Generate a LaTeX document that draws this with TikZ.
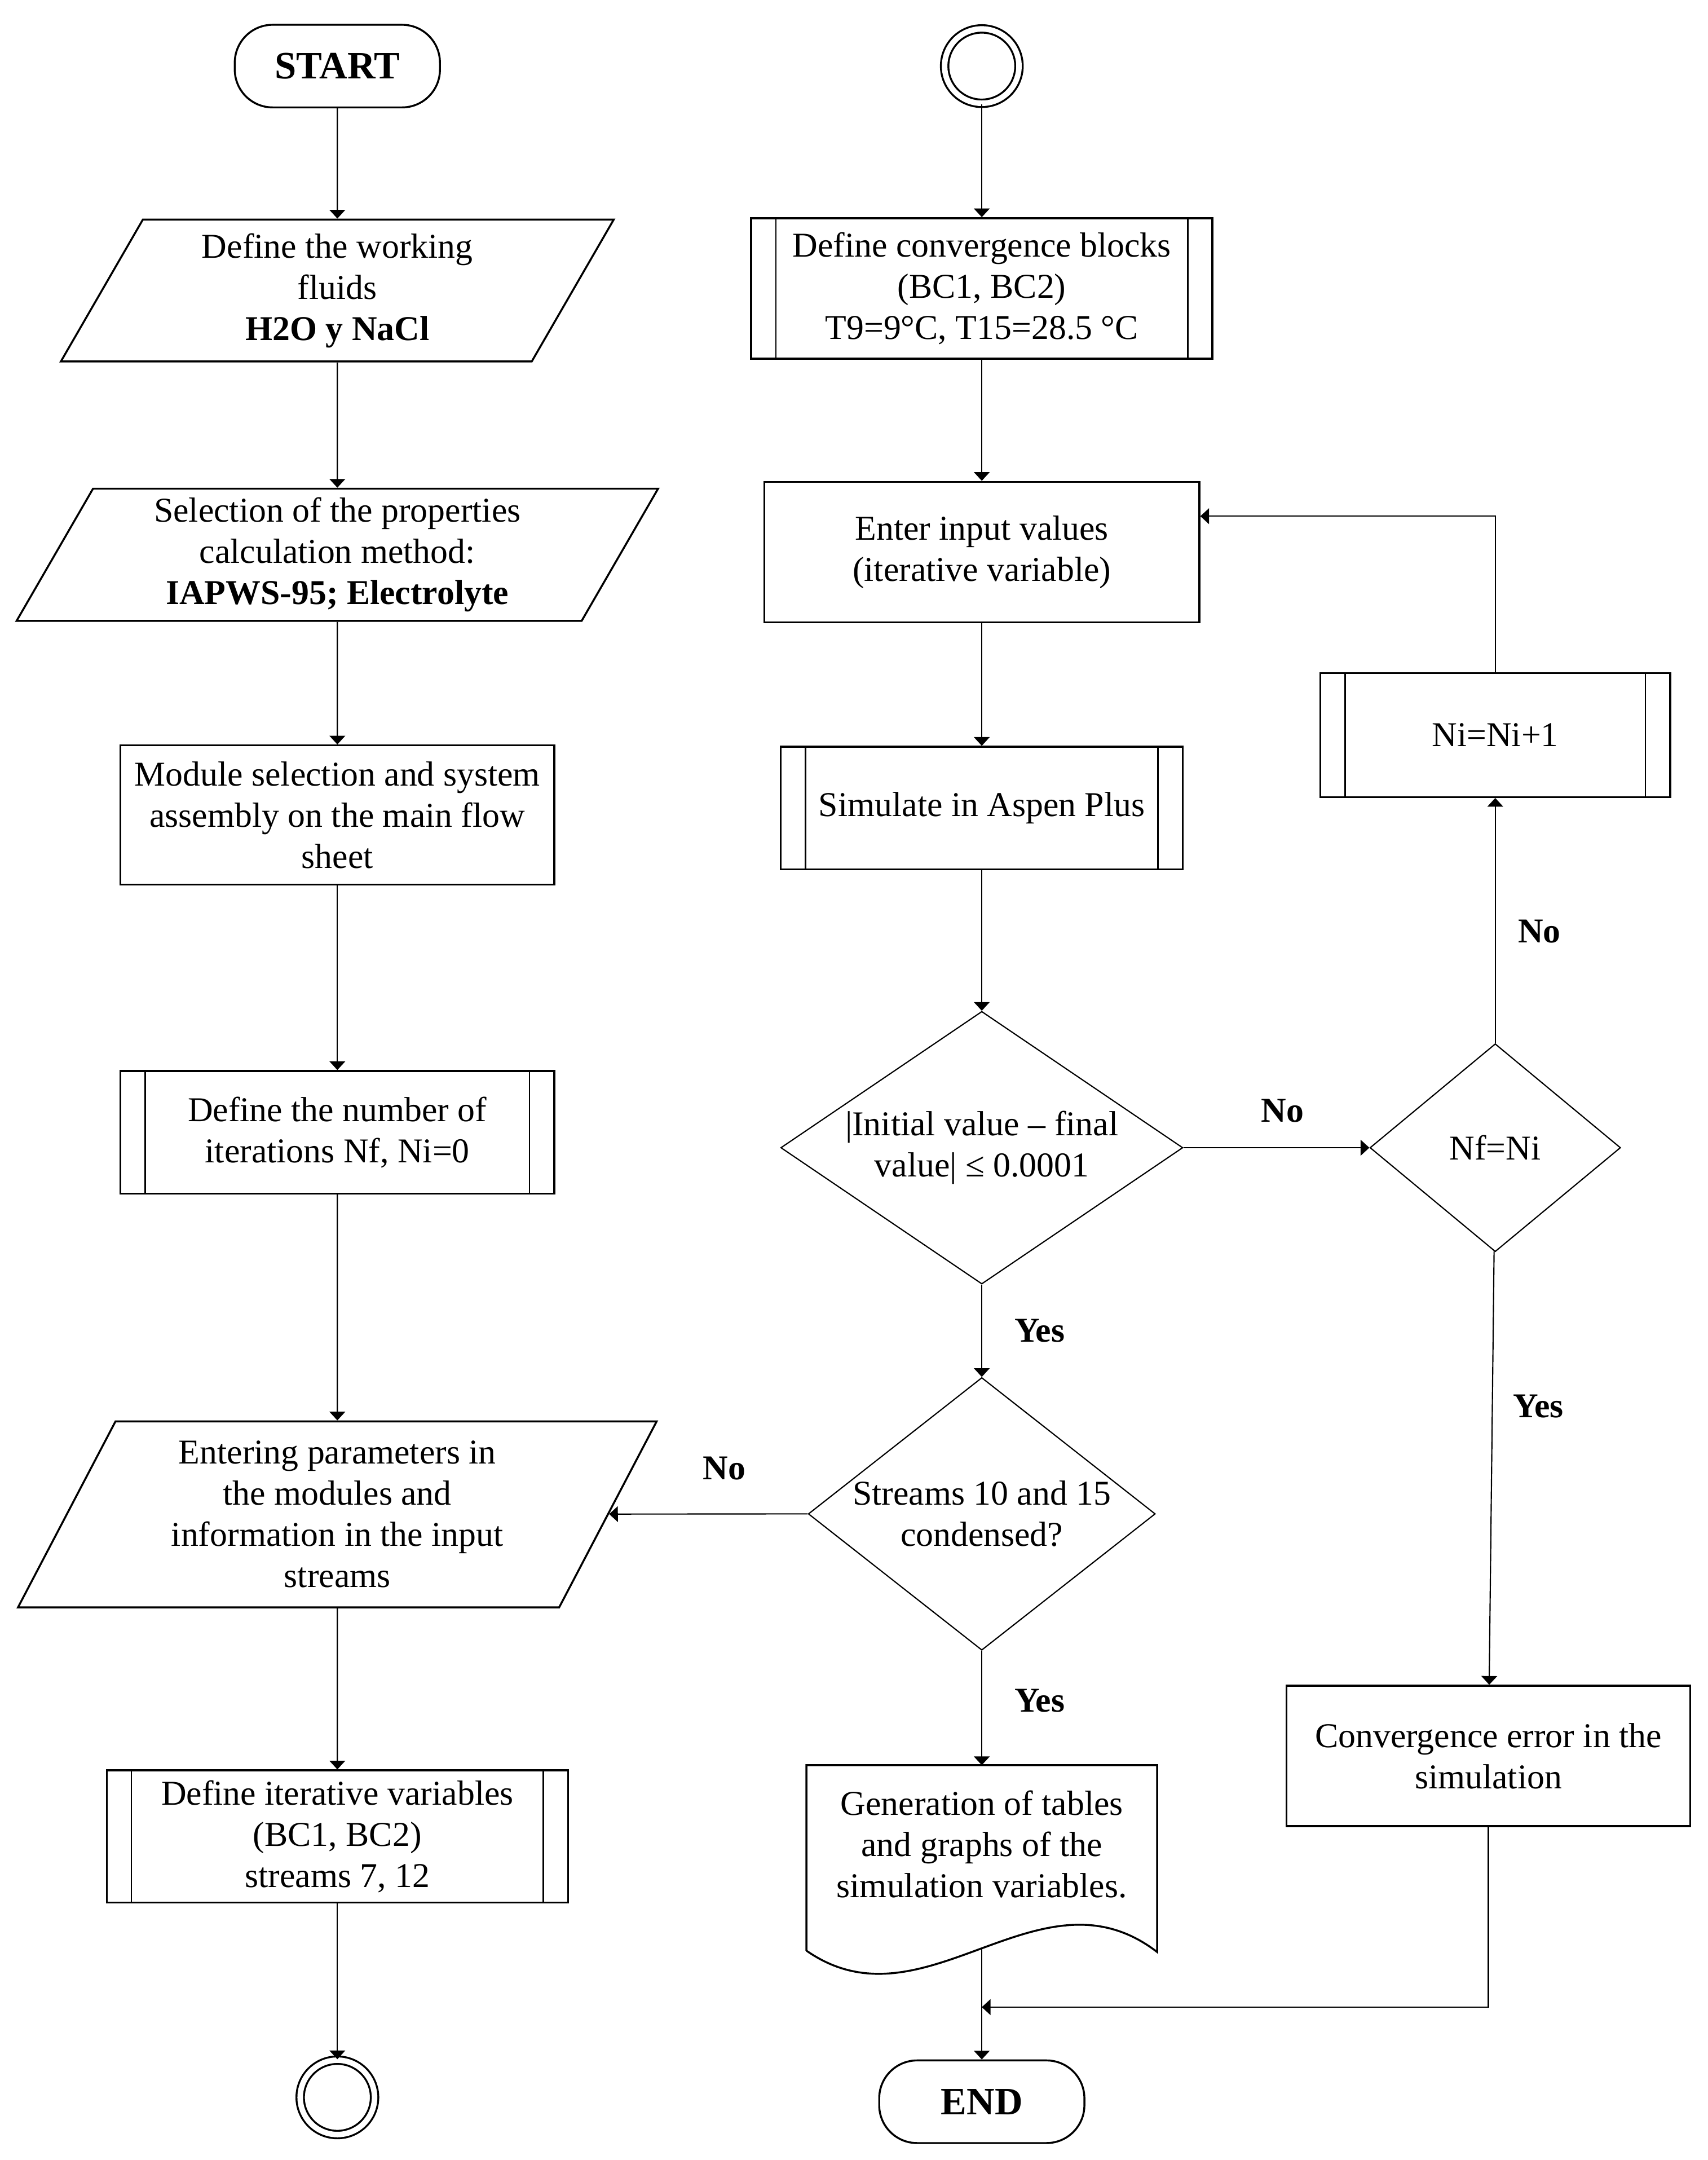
\documentclass[tikz,border=0pt]{standalone}
\usepackage{fontspec}
\setmainfont{Liberation Serif}
\usetikzlibrary{arrows.meta, shapes.geometric, positioning, calc}

\begin{document}
\begin{tikzpicture}[
	every node/.style={font=\fontsize{14.4}{17}\selectfont},
	proc/.style={
		rectangle, draw, line width=0.8pt, align=center, inner sep=2pt
	},
	subproc/.style={
		proc,
		path picture={
			\draw[line width=0.6pt]
				([xshift=0.36cm]path picture bounding box.north west) -- ([xshift=0.36cm]path picture bounding box.south west)
				([xshift=-0.36cm]path picture bounding box.north east) -- ([xshift=-0.36cm]path picture bounding box.south east);
		}
	},
	io/.style={
		trapezium, trapezium left angle=64, trapezium right angle=116,
		trapezium stretches=true, draw, line width=0.8pt, align=center, inner sep=1pt
	},
	decision/.style={diamond, draw, line width=0.5pt, align=center, inner sep=0pt},
	terminal/.style={
		rectangle, draw, line width=0.8pt, rounded corners=0.55cm,
		minimum width=2.98cm, minimum height=1.2cm, font=\fontsize{16}{19}\selectfont\bfseries
	},
	ring/.style={circle, draw, double, double distance=0.08cm, line width=0.8pt, minimum size=1.08cm},
	lbl/.style={font=\fontsize{14.4}{17}\selectfont\bfseries},
	arrow/.style={-{Triangle[length=3.6pt, width=6.5pt]}, line width=0.5pt}
	]
	\useasboundingbox (0,0) rectangle (24.8,-31.368);
	
	% Nodes, left column
	\node[terminal] (start) at (4.9,-0.96) {START};
	\node[io, below=1.6cm of start, minimum width=8.04cm, minimum height=2.06cm] (fluids) {Define the working\\ fluids\\ \bfseries H2O y NaCl};
	\node[io, below=1.82cm of fluids, minimum width=9.32cm, minimum height=1.92cm] (method) {Selection of the properties\\ calculation method:\\ \bfseries IAPWS-95; Electrolyte};
	\node[proc, below=1.78cm of method, minimum width=6.3cm, minimum height=2.02cm] (module) {Module selection and system\\ assembly on the main flow\\ sheet};
	\node[subproc, below=2.68cm of module, minimum width=6.3cm, minimum height=1.78cm] (niter) {Define the number of\\ iterations Nf, Ni=0};
	\node[io, below=3.28cm of niter, minimum width=9.28cm, minimum height=2.7cm] (params) {Entering parameters in\\ the modules and\\ information in the input\\ streams};
	\node[subproc, below=2.34cm of params, minimum width=6.7cm, minimum height=1.92cm] (itervar) {Define iterative variables\\ (BC1, BC2)\\ streams 7, 12};
	\node[ring, below=2.26cm of itervar] (stop) {};
	
	% Nodes, middle column
	\node[ring] (ringtop) at (14.26,-0.96) {};
	\node[subproc, below=1.64cm of ringtop, minimum width=6.7cm, minimum height=2.04cm] (conv) {Define convergence blocks\\ (BC1, BC2)\\ T9=9°C, T15=28.5 °C};
	\node[proc, below=1.76cm of conv, minimum width=6.32cm, minimum height=2.04cm] (enter) {Enter input values\\ (iterative variable)};
	\node[subproc, below=1.78cm of enter, minimum width=5.84cm, minimum height=1.78cm] (sim) {Simulate in Aspen Plus};
	\node[decision, below=2.04cm of sim, aspect=1.47, minimum width=5.84cm, minimum height=3.96cm] (check) {|Initial value – final\\ value| ≤ 0.0001};
	\node[decision, below=1.34cm of check, aspect=1.27, inner xsep=-2.5pt, minimum width=5.04cm, minimum height=3.96cm] (cond) {Streams 10 and 15\\ condensed?};
	\node[below=1.66cm of cond, align=center, minimum width=5.08cm, minimum height=2.28cm, inner sep=0pt] (doc) {Generation of tables\\ and graphs of the\\ simulation variables.};
	\draw[line width=0.8pt] ([yshift=-0.4cm]doc.south west) -- (doc.north west) -- (doc.north east) -- ([yshift=-0.42cm]doc.south east)
		.. controls ($(doc.south west)+(3.38,0.9)$) and ($(doc.south west)+(1.72,-1.6)$) .. ([yshift=-0.4cm]doc.south west);
	\coordinate (docout) at ([yshift=-0.36cm]doc.south);
	\coordinate (merge) at ([yshift=-1.22cm]doc.south);
	\node[terminal, below=1.98cm of doc] (finish) {END};
	
	% Nodes, right column
	\node[decision, right=2.7cm of check, minimum width=3.64cm, minimum height=3.02cm] (nfni) {Nf=Ni};
	\node[subproc, above=3.56cm of nfni, minimum width=5.08cm, minimum height=1.8cm] (inc) {Ni=Ni+1};
	\node[proc, below=6.28cm of nfni, xshift=-0.1cm, minimum width=5.86cm, minimum height=2.04cm] (err) {Convergence error in the\\ simulation};
	
	% Arrows with labels
	\draw[arrow] (start) -- (fluids);
	\draw[arrow] (fluids) -- (method);
	\draw[arrow] (method) -- (module);
	\draw[arrow] (module) -- (niter);
	\draw[arrow] (niter) -- (params);
	\draw[arrow] (params) -- (itervar);
	\draw[arrow] (itervar) -- (stop);
	\draw[arrow] (ringtop) -- (conv);
	\draw[arrow] (conv) -- (enter);
	\draw[arrow] (enter) -- (sim);
	\draw[arrow] (sim) -- (check);
	\draw[arrow] (check) -- node[lbl, xshift=0.84cm] {Yes} (cond);
	\draw[arrow] (check) -- node[lbl, xshift=0.09cm, yshift=0.54cm] {No} (nfni);
	\draw[arrow] (cond.west) -- node[lbl, xshift=0.23cm, yshift=0.66cm] {No} (params);
	\draw[arrow] (cond) -- node[lbl, xshift=0.84cm, yshift=0.11cm] {Yes} (doc);
	\draw[arrow] (nfni) -- node[lbl, xshift=0.64cm, yshift=-0.16cm] {No} (inc);
	\draw[arrow] (nfni) -- node[lbl, xshift=0.68cm, yshift=0.9cm] {Yes} (err);
	\draw[arrow] (inc) |- ([yshift=0.52cm]enter.east);
	\draw[arrow] (err) |- (merge);
	\draw[arrow] (docout) -- (finish);
\end{tikzpicture}
\end{document}
